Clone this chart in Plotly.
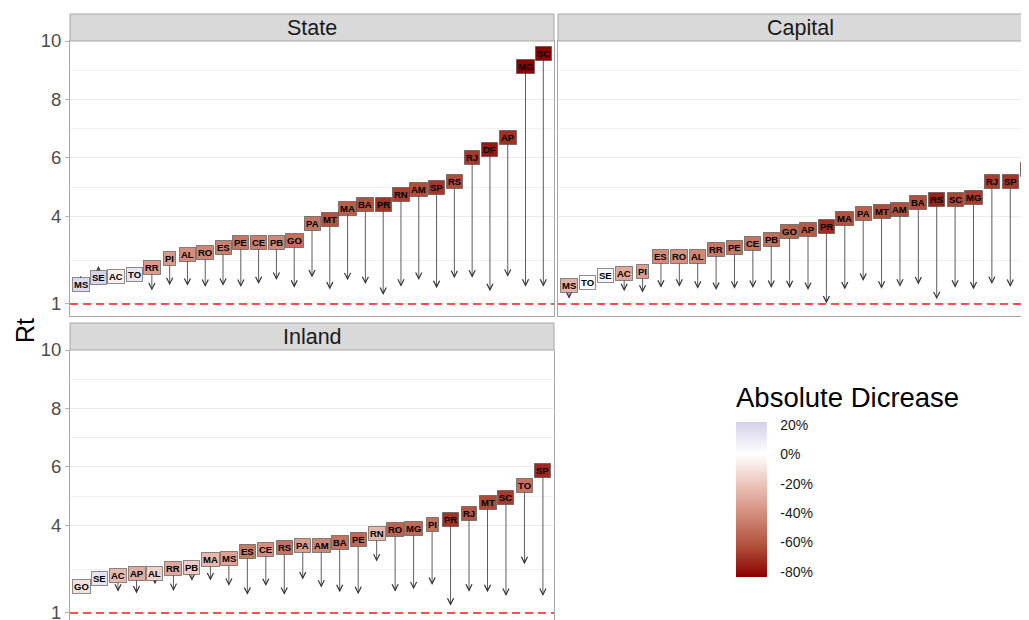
import plotly.graph_objects as go
from plotly.colors import sample_colorscale

# ---------------- data ----------------
state_codes = ["MS", "SE", "AC", "TO", "RR", "PI", "AL", "RO", "ES", "PE", "CE", "PB", "GO", "PA",
               "MT", "MA", "BA", "PR", "RN", "AM", "SP", "RS", "RJ", "DF", "AP", "MG", "SC"]
state_start = [1.68, 1.91, 1.95, 2.02, 2.24, 2.55, 2.71, 2.77, 2.95, 3.09, 3.09, 3.11, 3.18, 3.74,
               3.88, 4.26, 4.42, 4.42, 4.76, 4.93, 4.99, 5.18, 6.02, 6.27, 6.70, 9.14, 9.57]
state_end = [1.97, 2.30, 1.85, 2.26, 1.46, 1.64, 1.62, 1.58, 1.62, 1.58, 1.68, 1.82, 1.56, 1.91,
             1.50, 1.81, 1.68, 1.31, 1.59, 1.82, 1.54, 1.88, 1.90, 1.44, 1.93, 1.59, 1.59]

capital_codes = ["MS", "TO", "SE", "AC", "PI", "ES", "RO", "AL", "RR", "PE", "CE", "PB", "GO",
                 "AP", "PR", "MA", "PA", "MT", "AM", "BA", "RS", "SC", "MG", "RJ", "SP", "RN"]
capital_start = [1.62, 1.73, 1.99, 2.06, 2.11, 2.61, 2.61, 2.64, 2.88, 2.95, 3.06, 3.21, 3.47,
                 3.56, 3.65, 3.91, 4.08, 4.15, 4.23, 4.49, 4.56, 4.56, 4.64, 5.18, 5.18, 5.61]
capital_end = [1.18, 1.76, 2.08, 1.44, 1.39, 1.56, 1.59, 1.52, 1.48, 1.52, 1.55, 1.55, 1.54,
               1.48, 1.02, 1.50, 1.79, 1.52, 1.59, 1.67, 1.16, 1.56, 1.50, 1.68, 1.58, 1.60]

inland_codes = ["GO", "SE", "AC", "AP", "AL", "RR", "PB", "MA", "MS", "ES", "CE", "RS", "PA",
                "AM", "BA", "PE", "RN", "RO", "MG", "PI", "PR", "RJ", "MT", "SC", "TO", "SP"]
inland_start = [1.90, 2.17, 2.29, 2.36, 2.36, 2.52, 2.56, 2.82, 2.87, 3.12, 3.17, 3.23, 3.30,
                3.30, 3.40, 3.53, 3.71, 3.85, 3.89, 4.02, 4.21, 4.41, 4.78, 4.96, 5.36, 5.87]
inland_end = [1.70, 2.45, 1.73, 1.67, 1.98, 1.75, 2.10, 2.11, 1.93, 1.62, 1.92, 1.62, 2.15,
              1.87, 1.71, 1.64, 2.76, 1.73, 1.81, 1.96, 1.25, 1.73, 1.71, 1.58, 2.67, 1.58]

panel_titles = ["State", "Capital", "Inland"]
y_tick_vals = [1, 4, 6, 8, 10]
y_tick_text = ["1", "4", "6", "8", "10"]
y_minor_vals = [2.5, 5, 7, 9]
legend_tick_vals = [20, 0, -20, -40, -60, -80]
legend_tick_text = ["20%", "0%", "-20%", "-40%", "-60%", "-80%"]
legend_title = "Absolute Dicrease"
reference_rt = 1

# ---------------- styling ----------------
# the page body has an 8px margin, so the figure starts at (8, 8) on screen
OX, OY = 8, 8
W, H = 1021, 612
FONT = "Liberation Sans, Arial, sans-serif"


def fx(p):
    return (p - OX) / W


def fy(p):
    return 1 - (p - OY) / H


CMIN, CMAX = -83.4, 22.0


def cpos(v):
    return (v - CMIN) / (CMAX - CMIN)


colorscale = [
    [0.0, "rgb(139,0,0)"],
    [cpos(-62.55), "rgb(177,80,59)"],
    [cpos(-41.7), "rgb(209,137,120)"],
    [cpos(-20.85), "rgb(235,195,185)"],
    [cpos(0.0), "rgb(255,255,255)"],
    [cpos(11.0), "rgb(234,232,244)"],
    [1.0, "rgb(212,208,234)"],
]


def pct_change(start, end):
    return [100.0 * (e - s) / s for s, e in zip(start, end)]


def fill_color(p):
    t = min(max(cpos(p), 0.0), 1.0)
    return sample_colorscale(colorscale, [t])[0]


panels = [
    dict(codes=state_codes, start=state_start, end=state_end, xa="x", ya="y",
         xdom=[fx(70), fx(554)], ydom=[fy(316), fy(41)], xr=[0.4, 27.6], yr=[0.589, 10.0],
         strip=[70, 554, 14, 41]),
    dict(codes=capital_codes, start=capital_start, end=capital_end, xa="x2", ya="y2",
         xdom=[fx(558), 1.0], ydom=[fy(316), fy(41)], xr=[0.4, 26.02], yr=[0.589, 10.0],
         strip=[558, 1042, 14, 41]),
    dict(codes=inland_codes, start=inland_start, end=inland_end, xa="x3", ya="y3",
         xdom=[fx(70), fx(554)], ydom=[0.0, fy(350)], xr=[0.4, 26.6], yr=[0.76, 10.0],
         strip=[70, 554, 323, 350]),
]

fig = go.Figure()
annotations = []
shapes = []

for k, p in enumerate(panels):
    n = len(p["codes"])
    xs = list(range(1, n + 1))
    pcts = pct_change(p["start"], p["end"])
    # invisible markers carrying the colour scale (first panel shows the colour bar)
    fig.add_trace(go.Scatter(
        x=xs, y=p["start"], xaxis=p["xa"], yaxis=p["ya"], mode="markers",
        marker=dict(size=2, opacity=0, color=pcts, colorscale=colorscale, cmin=CMIN, cmax=CMAX,
                    showscale=(k == 0),
                    colorbar=dict(
                        x=fx(736), xanchor="left", y=fy(499.5), yanchor="middle",
                        len=155, lenmode="pixels", thickness=31, thicknessmode="pixels",
                        outlinewidth=0, tickvals=legend_tick_vals, ticktext=legend_tick_text,
                        ticks="outside", ticklen=11, tickcolor="rgba(0,0,0,0)",
                        tickfont=dict(size=14, color="#1a1a1a", family=FONT),
                        xpad=0, ypad=0)),
        hoverinfo="skip", showlegend=False))

    # reference line Rt = 1
    shapes.append(dict(type="line", xref=f"{p['xa']} domain", yref=p["ya"], x0=0, x1=1,
                       y0=reference_rt, y1=reference_rt,
                       line=dict(color="#ff1a1a", width=1.6, dash="8px,5px")))

    # arrows first, labels on top
    for x, s, e in zip(xs, p["start"], p["end"]):
        annotations.append(dict(
            x=x, y=e, ax=x, ay=s, xref=p["xa"], yref=p["ya"], axref=p["xa"], ayref=p["ya"],
            text="", showarrow=True, arrowhead=5, arrowsize=1.5, arrowwidth=0.8,
            arrowcolor="#333333", standoff=0, startstandoff=0))
    for x, s, c, pc in zip(xs, p["start"], p["codes"], pcts):
        annotations.append(dict(
            x=x, y=s, xref=p["xa"], yref=p["ya"], text=f"<b>{c}</b>", showarrow=False,
            bgcolor=fill_color(pc), bordercolor="rgba(70,70,70,0.6)", borderwidth=1,
            borderpad=1, font=dict(size=9.5, color="black", family=FONT)))

    # strip
    x0, x1, y0, y1 = p["strip"]
    shapes.append(dict(type="rect", xref="paper", yref="paper", x0=fx(x0), x1=fx(x1),
                       y0=fy(y1), y1=fy(y0), fillcolor="#d9d9d9",
                       line=dict(color="#a6a6a6", width=1), layer="above"))
    annotations.append(dict(x=fx((x0 + x1) / 2), y=fy((y0 + y1) / 2), xref="paper", yref="paper",
                            text=panel_titles[k], showarrow=False, xanchor="center",
                            yanchor="middle",
                            font=dict(size=21.5, color="#1a1a1a", family=FONT)))

# axis title and legend title
annotations.append(dict(x=fx(25), y=fy(331), xref="paper", yref="paper", text="Rt",
                        textangle=-90, showarrow=False, xanchor="center", yanchor="middle",
                        font=dict(size=25, color="black", family=FONT)))
annotations.append(dict(x=fx(734), y=fy(397), xref="paper", yref="paper", text=legend_title,
                        showarrow=False, xanchor="left", yanchor="middle",
                        font=dict(size=27.5, color="black", family=FONT)))

grid = "#ebebeb"
border = "#a6a6a6"
ycommon = dict(tickvals=y_tick_vals, ticktext=y_tick_text, gridcolor=grid, gridwidth=1,
               zeroline=False, automargin=False, ticklabeloverflow="allow",
               minor=dict(tickvals=y_minor_vals, showgrid=True, gridcolor="#f2f2f2", gridwidth=1),
               tickfont=dict(size=18.5, color="#4d4d4d", family=FONT),
               linecolor=border, linewidth=1)
xcommon = dict(showticklabels=False, showgrid=False, zeroline=False, ticks="",
               automargin=False, linecolor=border, linewidth=1)

layout = dict(
    width=W, height=H, margin=dict(l=0, r=0, t=0, b=0, autoexpand=False),
    paper_bgcolor="white", plot_bgcolor="white",
    font=dict(family=FONT),
    annotations=annotations, shapes=shapes, showlegend=False,
)
for k, p in enumerate(panels):
    sfx = "" if k == 0 else str(k + 1)
    xa = dict(xcommon, domain=p["xdom"], range=p["xr"], anchor=p["ya"])
    ya = dict(ycommon, domain=p["ydom"], range=p["yr"], anchor=p["xa"])
    if k == 0:
        xa.update(showline=True, mirror=True)
        ya.update(showline=True, mirror=True, ticks="outside", ticklen=4, tickcolor="#b3b3b3")
    elif k == 1:
        xa.update(showline=True, mirror=True)
        ya.update(showline=True, mirror=False, showticklabels=False, ticks="")
    else:
        xa.update(showline=False)
        ya.update(showline=True, mirror=True, ticks="outside", ticklen=4, tickcolor="#b3b3b3")
    layout["xaxis" + sfx] = xa
    layout["yaxis" + sfx] = ya

fig.update_layout(**layout)
fig.write_html("out.html")
